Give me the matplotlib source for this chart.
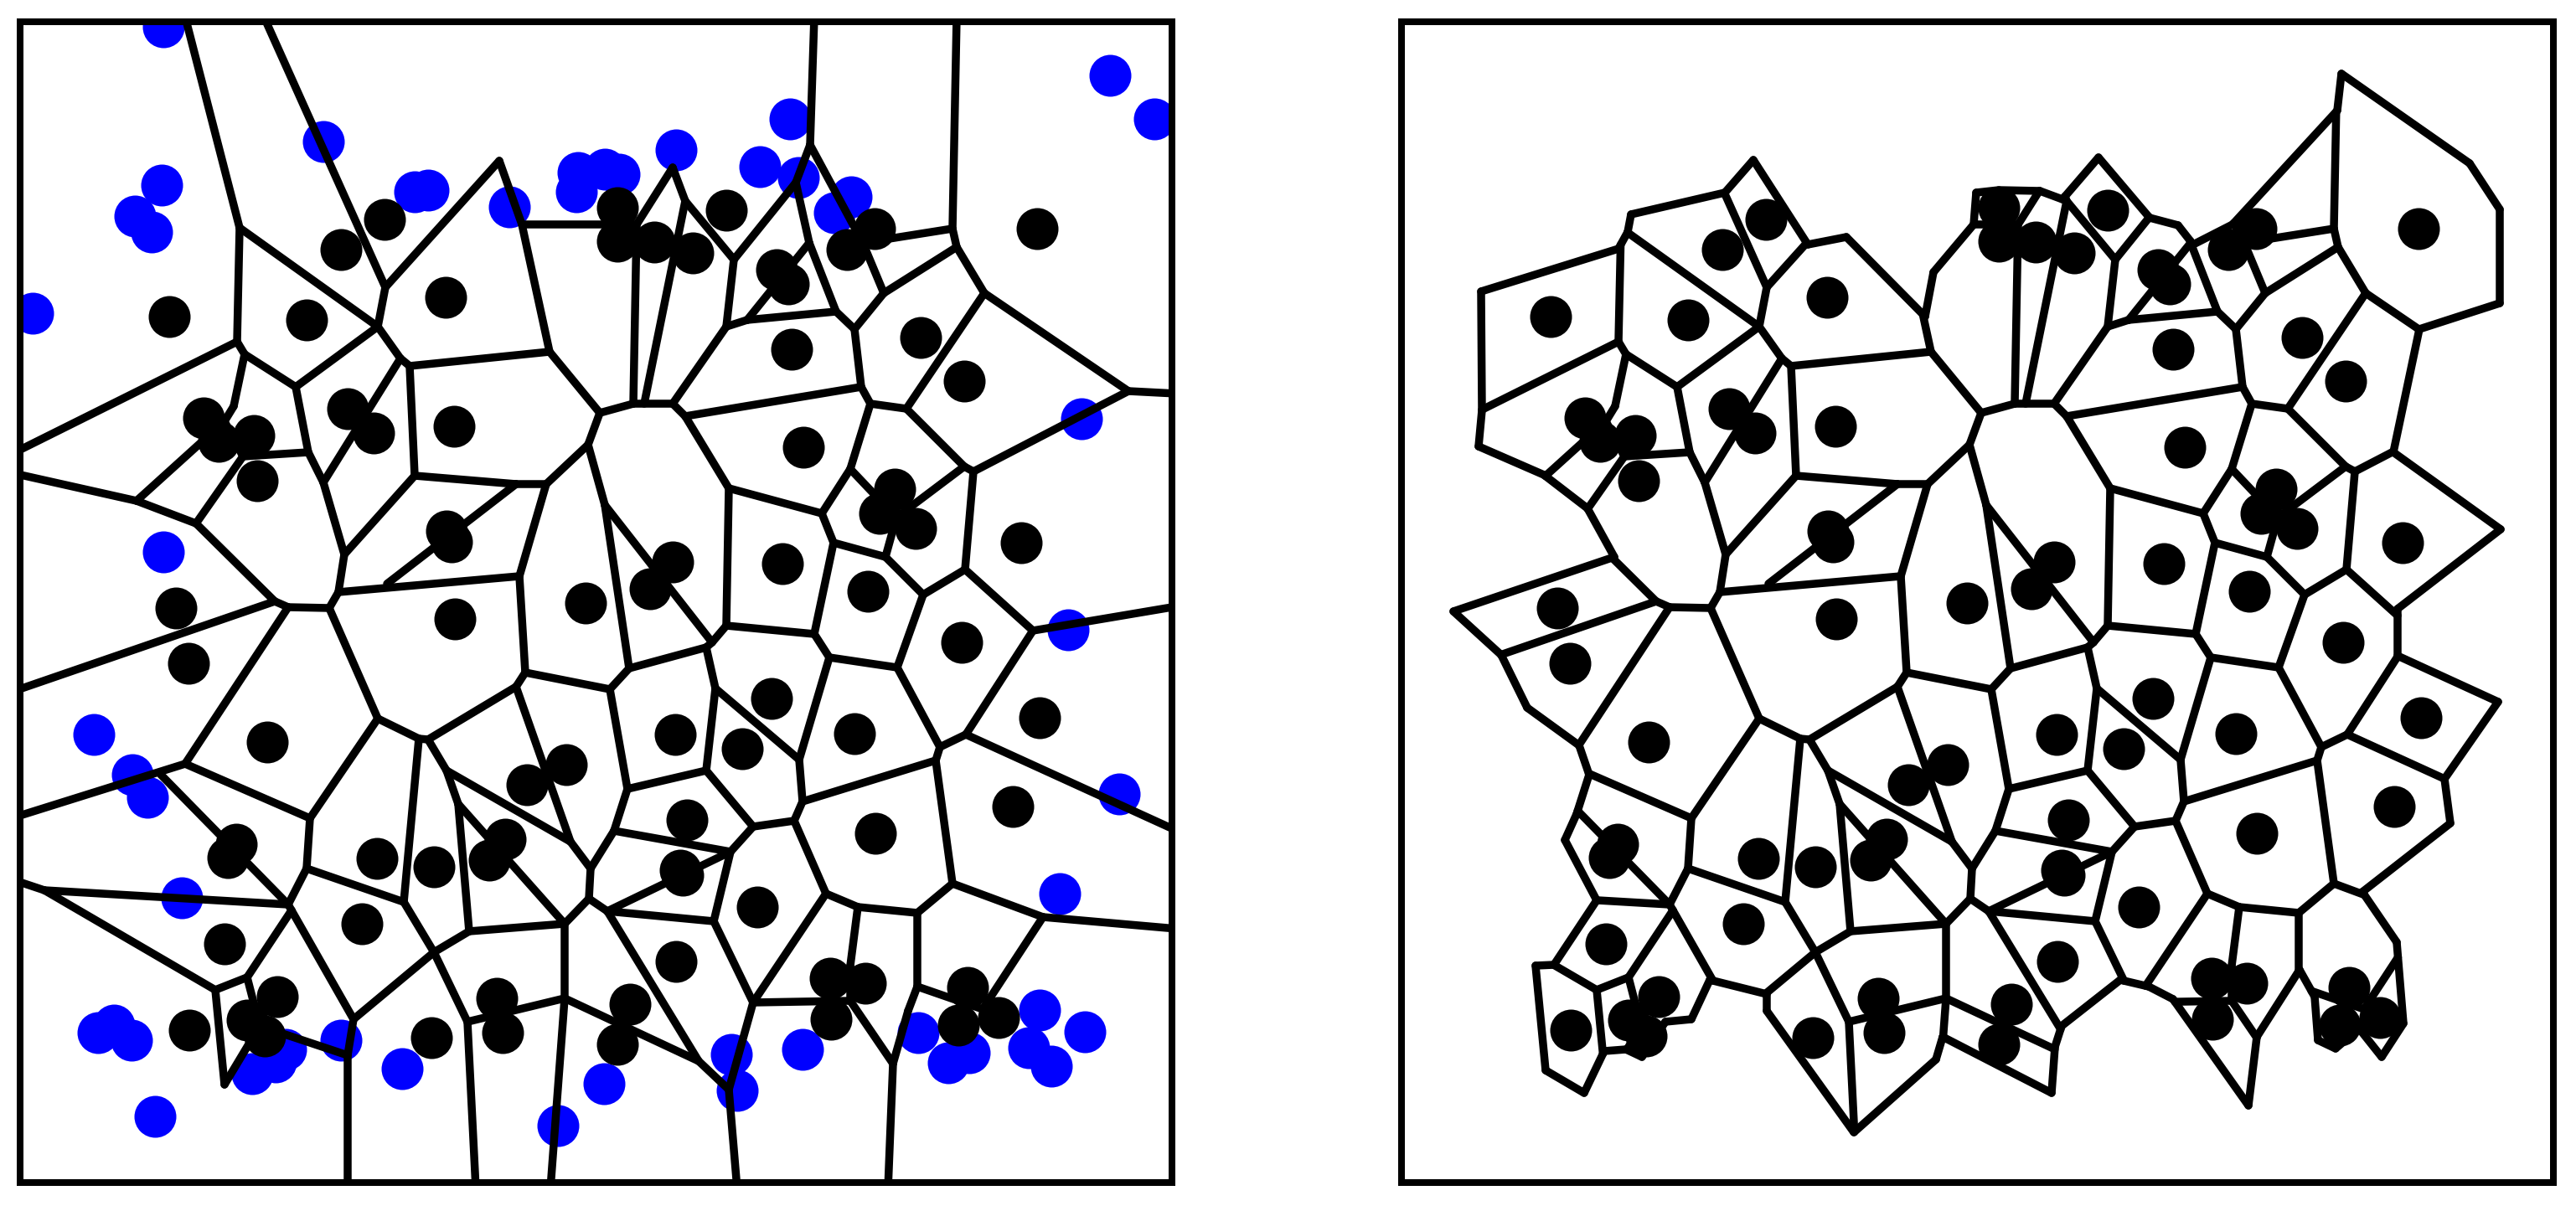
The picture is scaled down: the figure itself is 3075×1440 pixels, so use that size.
import numpy as np
import matplotlib
matplotlib.use("Agg")
import matplotlib.pyplot as plt
from matplotlib.collections import LineCollection

black_x = [202,366,407,459,532,737,737,781,827,867,927,941,1011,1044,1238,945,1099,1151,
           243,261,303,307,415,446,542,533,539,543,210,225,319,699,676,629,
           959,803,776,934,1068,1050,1093,1036,1219,1148,1241,921,806,886,1020,
           282,272,268,450,518,432,603,584,226,331,295,316,515,593,600,
           820,812,815,904,1045,1209,807,752,737,991,1033,992,1155,1144,1192]
black_y = [378,382,298,262,355,248,288,289,302,251,322,339,298,273,273,417,403,455,
           499,527,520,574,488,517,509,634,647,739,726,792,886,720,913,937,
           534,671,703,673,584,613,631,706,648,767,857,834,877,894,876,
           1008,1024,1127,1025,1035,1103,1002,1027,1230,1190,1218,1237,1239,1192,1233,
           979,1039,1045,1083,995,963,1148,1199,1247,1168,1174,1217,1179,1224,1215]
blue_x = [195,386,193,161,181,495,511,608,39,690,722,739,688,807,943,907,953,1016,996,1325,1378,
          1291,1275,1336,195,112,158,176,217,117,136,157,407,480,185,301,341,329,666,721,
          873,880,958,1096,1132,1157,1241,1228,1255,1295,1265]
blue_y = [32,169,221,258,277,229,227,247,374,206,202,208,229,179,142,199,212,235,254,90,142,
          500,752,948,659,877,925,952,1072,1233,1224,1242,1242,1276,1333,1282,1253,1268,1344,1294,
          1259,1302,1253,1233,1269,1257,1206,1251,1273,1232,1067]
# ridges between cells: x0, y0, x1, y1
ridges = [
 (221,20,286,272),(286,272,283,408),(315,20,460,343),(286,272,451,390),(460,343,451,390),
 (460,343,596,192),(596,192,623,268),(623,268,760,268),(623,268,656,420),(656,420,489,437),
 (489,437,478,428),(478,428,451,390),(451,390,353,462),(353,462,292,423),(292,423,283,408),
 (283,408,20,539),(292,423,279,485),(279,485,268,503),(353,462,368,540),(368,540,386,576),
 (368,540,290,545),(290,545,234,625),(268,503,290,545),(163,598,268,503),(163,598,234,625),
 (163,598,20,566),(234,625,328,718),(328,718,344,725),(328,718,20,824),(344,725,393,726),
 (393,726,404,707),(404,707,411,662),(411,662,386,576),(478,428,386,576),(411,662,495,568),
 (495,568,616,578),(616,578,652,578),(495,568,489,437),(652,578,702,531),(616,578,462,697),
 (652,578,620,688),(404,707,620,688),(620,688,627,803),(627,803,616,820),(616,820,511,883),
 (511,883,500,882),(500,882,451,858),(393,726,451,858),(451,858,370,977),(500,882,482,1077),
 (511,883,533,920),(533,920,547,960),(533,920,681,1005),(627,803,728,823),(616,820,681,1005),
 (702,531,716,493),(716,493,756,482),(756,482,803,482),(803,482,818,497),(818,497,870,583),
 (870,583,867,747),(867,747,850,767),(850,767,843,773),(843,773,751,798),(751,798,728,823),
 (702,531,722,603),(722,603,751,798),(722,603,850,767),(656,420,716,493),(756,482,760,268),
 (769,482,818,240),(803,482,867,390),(867,390,876,310),(876,310,818,240),(818,240,803,200),
 (803,200,760,268),(876,310,950,218),(950,218,967,173),(967,173,972,20),(950,218,966,290),
 (966,290,998,372),(867,390,892,382),(892,382,998,372),(892,382,966,290),(998,372,1020,393),
 (1020,393,1055,350),(1055,350,1030,290),(967,173,1030,290),(1030,290,1137,273),(1137,273,1142,20),
 (1137,273,1142,295),(1142,295,1055,350),(1142,295,1175,350),(1175,350,1347,467),(1347,467,1405,470),
 (1175,350,1082,488),(1020,393,1028,462),(1028,462,818,497),(1028,462,1039,482),(1039,482,1082,488),
 (1347,467,1162,563),(1162,563,1151,557),(1151,557,1082,488),(1151,557,1070,618),(1039,482,1015,560),
 (1015,560,981,613),(870,583,981,613),(1015,560,1070,618),(981,613,995,648),(995,648,1057,665),
 (1057,665,1070,618),(1057,665,1102,710),(1102,710,1152,680),(1162,563,1152,680),(1152,680,1233,753),
 (1233,753,1405,724),(1233,753,1153,877),(1102,710,1071,797),(995,648,972,757),(867,747,972,757),
 (972,757,990,785),(990,785,1071,797),(1071,797,1122,892),(1122,892,1153,877),(1153,877,1405,992),
 (1122,892,1117,908),(1117,908,1137,1055),(1117,908,958,957),(990,785,954,907),(954,907,958,957),
 (954,907,854,822),(854,822,843,773),(854,822,843,920),(843,920,749,942),(728,823,749,942),
 (749,942,733,992),(843,920,899,987),(899,987,872,1017),(899,987,948,980),(948,980,958,957),
 (948,980,986,1067),(986,1067,1024,1083),(1024,1083,1095,1090),(1095,1090,1137,1055),(1137,1055,1245,1095),
 (1245,1095,1405,1109),(1245,1095,1173,1205),(1095,1090,1095,1178),(1095,1178,1173,1205),(1095,1178,1084,1207),
 (1084,1207,1066,1270),(1066,1270,1015,1195),(1015,1153,1015,1195),(1024,1083,1015,1153),(899,1197,1015,1195),
 (1066,1270,1060,1420),(986,1067,899,1197),(899,1197,852,1100),(852,1100,872,1017),(733,992,872,1017),
 (852,1100,725,1088),(725,1088,872,1017),(725,1088,703,1073),(725,1088,834,1267),(834,1267,674,1192),
 (834,1267,870,1301),(899,1197,870,1301),(870,1301,880,1420),(733,992,705,1037),(705,1037,703,1073),
 (681,1005,705,1037),(703,1073,674,1103),(674,1103,674,1192),(674,1103,560,1112),(560,1112,547,960),
 (547,960,674,1103),(560,1112,518,1137),(518,1137,482,1077),(482,1077,366,1037),(366,1037,370,977),
 (370,977,221,912),(221,912,344,725),(221,912,20,975),(192,925,344,1080),(344,1080,366,1037),
 (344,1080,348,1087),(344,1080,53,1063),(53,1063,20,1052),(53,1063,257,1182),(257,1182,295,1167),
 (295,1167,348,1087),(295,1167,310,1225),(257,1182,268,1295),(268,1295,310,1225),(348,1087,422,1217),
 (518,1137,422,1217),(518,1137,558,1220),(558,1220,674,1192),(558,1220,568,1420),(674,1192,657,1420),
 (422,1217,415,1260),(415,1260,415,1420),(415,1260,310,1225),
]
outline_x = [1768,1932,1943,1947,2059,2093,2158,2204,2298,2308,2356,2359,2386,2435,2462,2505,2566,2600,
             2618,2665,2790,2795,2948,2984,2984,2888,2857,2985,2862,2862,2982,2918,2925,2820,2861,2869,
             2843,2816,2788,2767,2763,2745,2694,2684,2594,2565,2531,2461,2453,2449,2319,2311,2213,2109,
             2109,2041,2019,1988,1960,1941,1915,1891,1845,1833,1855,1906,1868,1882,1897,1885,1823,1792,
             1735,1927,1895,1843,1765,1769]
outline_y = [348,297,277,256,230,191,292,283,378,325,268,230,227,228,238,188,260,269,
             292,268,132,88,195,250,362,393,540,632,727,783,838,930,983,1065,1125,1222,
             1262,1228,1252,1242,1190,1158,1238,1320,1193,1178,1170,1225,1250,1305,1238,1265,1352,1207,
             1187,1170,1217,1220,1262,1253,1255,1305,1278,1153,1152,1075,1003,972,925,890,845,782,
             730,665,607,567,533,490]

PANEL_SHIFT = 1649
LINE_PX = 9.5
FRAME_PX = 8
DOT_PX = 50
W, H = 3075, 1440
DPI = 100
px = 72 / DPI
O = np.column_stack([np.array(outline_x) - PANEL_SHIFT, outline_y]).astype(float)
edges = [(np.array(r[:2], float), np.array(r[2:], float)) for r in ridges]


def inside(pt, poly):
    x, y = pt
    c = False
    for i in range(len(poly)):
        x1, y1 = poly[i]
        x2, y2 = poly[(i + 1) % len(poly)]
        if (y1 > y) != (y2 > y) and x < x1 + (y - y1) * (x2 - x1) / (y2 - y1):
            c = not c
    return c


def clip_to_outline(segments, poly):
    out = []
    for p, q in segments:
        ts = [0.0, 1.0]
        r = q - p
        for i in range(len(poly)):
            s0 = poly[i]
            e = poly[(i + 1) % len(poly)] - s0
            den = r[0] * e[1] - r[1] * e[0]
            if abs(den) < 1e-12:
                continue
            w = s0 - p
            t = (w[0] * e[1] - w[1] * e[0]) / den
            v = (w[0] * r[1] - w[1] * r[0]) / den
            if 0 < t < 1 and 0 <= v <= 1:
                ts.append(t)
        ts = sorted(ts)
        for t0, t1 in zip(ts[:-1], ts[1:]):
            if inside(p + r * (t0 + t1) / 2, poly):
                out.append((p + r * t0, p + r * t1))
    return out


right_edges = clip_to_outline(edges, O)
right_edges += [(O[i], O[(i + 1) % len(O)]) for i in range(len(O))]

fig = plt.figure(figsize=(W / DPI, H / DPI), dpi=DPI)
L, T, B = 24, 26, 1412
PW = 1375
ax1 = fig.add_axes([L / W, 1 - B / H, PW / W, (B - T) / H])
ax2 = fig.add_axes([(L + PANEL_SHIFT) / W, 1 - B / H, PW / W, (B - T) / H])
for ax, seg in ((ax1, edges), (ax2, right_edges)):
    ax.set_xlim(L, L + PW)
    ax.set_ylim(B, T)
    ax.set_xticks([])
    ax.set_yticks([])
    for s in ax.spines.values():
        s.set_linewidth(FRAME_PX * px)
    ax.add_collection(LineCollection([np.array(e) for e in seg], colors="k",
                                     linewidths=LINE_PX * px, capstyle="round", zorder=3))
    ax.plot(black_x, black_y, "o", color="k", ms=DOT_PX * px, mew=0, zorder=4)
ax1.plot(blue_x, blue_y, "o", color="#0000ff", ms=DOT_PX * px, mew=0, zorder=2)
fig.savefig("out.png", dpi=DPI, facecolor="white")
